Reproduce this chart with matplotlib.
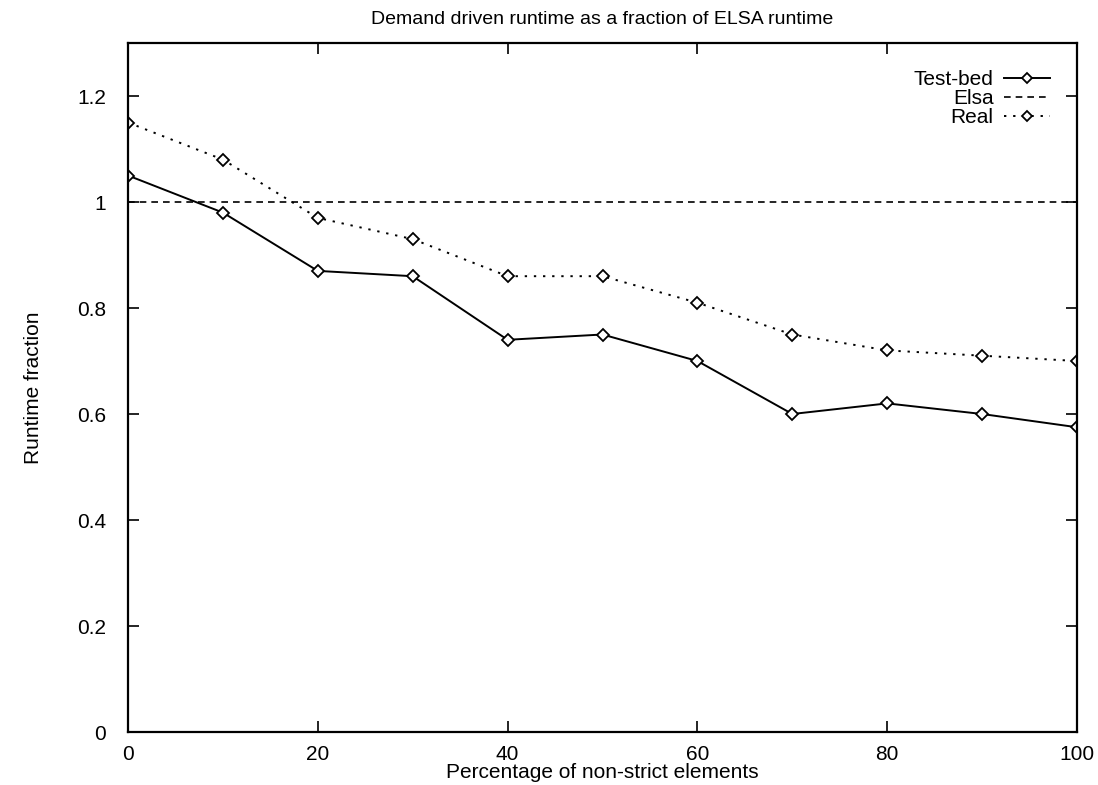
import matplotlib.pyplot as plt
import numpy as np

# Percentage of non-strict elements on the x axis
pct = [0, 10, 20, 30, 40, 50, 60, 70, 80, 90, 100]
# Runtime as a fraction of the ELSA runtime
testbed = [1.05, 0.98, 0.87, 0.86, 0.74, 0.75, 0.70, 0.60, 0.62, 0.60, 0.575]
real = [1.15, 1.08, 0.97, 0.93, 0.86, 0.86, 0.81, 0.75, 0.72, 0.71, 0.70]
elsa = [1.0] * len(pct)

plt.rcParams["font.family"] = ["Liberation Sans", "DejaVu Sans"]
plt.rcParams["font.size"] = 14

fig = plt.figure(figsize=(10.98, 7.85), dpi=100)
ax = fig.add_axes([128 / 1098, 1 - 732 / 785, 949 / 1098, 689 / 785])

mk = dict(marker="D", markersize=6, markerfacecolor="white",
          markeredgecolor="black", markeredgewidth=1.3)
ax.plot(pct, testbed, color="black", lw=1.4, label="Test-bed", **mk)
ax.plot(pct, elsa, color="black", lw=1.2, ls=(0, (4, 3)), label="Elsa")
ax.plot(pct, real, color="black", lw=1.4, ls=(0, (1.2, 3.5)), label="Real", **mk)

ax.set_xlim(0, 100)
ax.set_ylim(0, 1.3)
ax.set_xticks(np.arange(0, 101, 20))
ax.set_yticks([0, 0.2, 0.4, 0.6, 0.8, 1.0, 1.2])
ax.set_yticklabels(["0", "0.2", "0.4", "0.6", "0.8", "1", "1.2"])
ax.tick_params(direction="in", length=8, width=1.2, top=True, right=True,
               labelsize=15)
ax.tick_params(axis="x", pad=9)
ax.tick_params(axis="y", pad=16)
for s in ax.spines.values():
    s.set_linewidth(1.6)

ax.set_title("Demand driven runtime as a fraction of ELSA runtime",
             fontsize=14, pad=14)
ax.set_xlabel("Percentage of non-strict elements", fontsize=15, labelpad=0)
ax.set_ylabel("Runtime fraction", fontsize=15, labelpad=24)

ax.legend(loc="upper right", frameon=False, markerfirst=False,
          handlelength=2.2, handletextpad=0.5, labelspacing=0.0,
          borderaxespad=0.9, fontsize=15, markerscale=0.8)

fig.savefig("out.png", dpi=100)
